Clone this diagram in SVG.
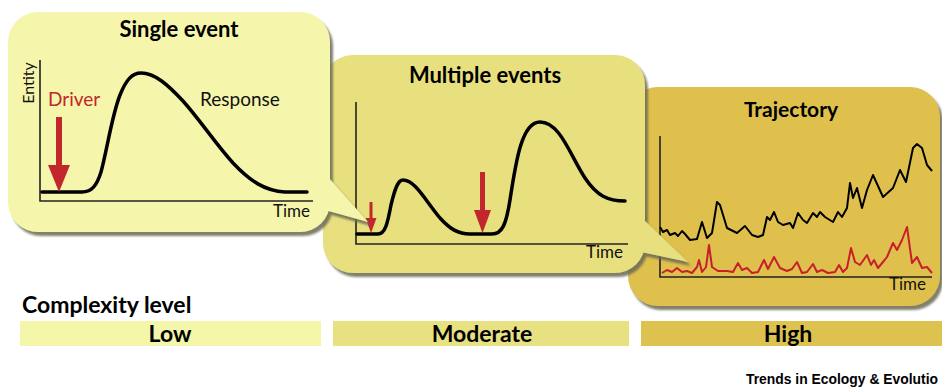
<svg xmlns="http://www.w3.org/2000/svg" width="942" height="391" viewBox="0 0 942 391">
  <defs>
    <filter id="shadow" x="-10%" y="-10%" width="130%" height="130%">
      <feDropShadow dx="3" dy="4" stdDeviation="1" flood-color="#6b6953" flood-opacity="0.85"/>
    </filter>
  </defs>
  <style>
    .title { font-family: Lato, "Open Sans", sans-serif; font-weight: bold; fill: #000; text-anchor: middle; }
    .lbl { font-family: Lato, "Open Sans", sans-serif; fill: #111; }
    .axis { stroke: #222; stroke-width: 1.6; fill: none; }
    .curve { stroke: #000; stroke-width: 3.5; fill: none; stroke-linejoin: round; stroke-linecap: round; }
    .red { fill: #c1272d; }
    .noisy-k { stroke: #000; stroke-width: 2; fill: none; stroke-linejoin: round; }
    .noisy-r { stroke: #c8202a; stroke-width: 2; fill: none; stroke-linejoin: round; }
    .bar-text { font-family: Lato, "Open Sans", sans-serif; font-weight: bold; font-size: 23px; text-anchor: middle; fill: #000; }
  </style>

  <rect width="942" height="391" fill="#ffffff"/>

  <!-- Trajectory panel (bottom of the stack) -->
  <g id="trajectory">
    <rect x="628" y="87" width="312" height="219" rx="30" fill="#dfc04e" filter="url(#shadow)"/>
    <text class="title" x="791" y="117" font-size="21">Trajectory</text>
    <path class="axis" d="M660,136 V277 H932"/>
    <polyline class="noisy-k" points="660,227 663,232 667,230 670,235 675,233 678,236 682,231 685,234 690,240 697,239 702,222 707,238 712,233 717,202 720,205 727,228 737,233 745,226 752,235 758,237 763,235 767,217 770,220 774,212 778,222 783,225 790,223 793,228 798,213 803,220 807,223 813,213 817,217 820,212 825,217 833,222 838,212 842,217 847,208 850,183 853,198 857,188 862,208 867,190 873,175 883,197 893,188 900,170 906,182 913,148 917,144 922,148 927,165 932,171"/>
    <polyline class="noisy-r" points="662,273 667,270 672,272 677,268 682,272 687,271 692,273 697,267 699,260 702,272 706,267 709,245 712,267 718,271 727,271 733,272 738,263 742,270 747,268 752,273 758,272 764,260 768,269 774,257 780,268 787,271 792,269 797,262 802,273 807,272 813,264 817,272 822,270 828,273 835,272 839,265 843,272 847,268 851,248 855,262 860,265 867,255 871,265 874,260 878,268 883,262 887,257 893,243 897,250 902,240 907,227 912,263 917,257 922,268 927,267 932,273"/>
    <text class="lbl" x="889" y="290" font-size="17">Time</text>
  </g>

  <!-- Multiple events panel, callout pointing into the trajectory chart -->
  <g id="multiple-events">
    <g filter="url(#shadow)" fill="#e8e07e">
      <rect x="323" y="55" width="322" height="218" rx="30"/>
      <polygon points="643,219 688,262 641,252"/>
    </g>
    <text class="title" x="485" y="83" font-size="22">Multiple events</text>
    <path class="axis" d="M356,102 V244 H628"/>
    <path class="curve" d="M357,234 L378,234 C386,234 388,220 391,205 C395,188 398,180 403,180 C415,180 425,200 440,218 C450,229 458,234 470,234 L492,234 C502,234 506,225 510,200 C516,160 522,122 540,122 C560,122 570,155 585,178 C597,196 608,201 625,201"/>
    <rect class="red" x="369.5" y="202" width="3" height="18"/>
    <polygon class="red" points="365.5,218 376.5,218 371,233"/>
    <rect class="red" x="480" y="172" width="5" height="40"/>
    <polygon class="red" points="474,210 491,210 482.5,233"/>
    <text class="lbl" x="586" y="258" font-size="17">Time</text>
  </g>

  <!-- Single event panel, callout pointing into the multiple-events chart -->
  <g id="single-event">
    <g filter="url(#shadow)" fill="#f5f6ab">
      <rect x="8" y="12" width="322" height="220" rx="30"/>
      <polygon points="328,177 368,222 325,210"/>
    </g>
    <text class="title" x="179" y="37" font-size="22">Single event</text>
    <path class="axis" d="M40,60 V201 H313"/>
    <path class="curve" d="M42,192 L82,192 C92,192 97,185 101,172 C107,150 112,115 120,95 C126,80 132,73 141,73 C155,73 168,85 183,101 C200,120 215,143 233,163 C250,181 265,191 285,192 L307,192"/>
    <text class="lbl" x="34" y="83" font-size="16" text-anchor="middle" transform="rotate(-90 34 83)">Entity</text>
    <text class="lbl" x="48" y="106" font-size="19" style="fill:#c1272d">Driver</text>
    <rect class="red" x="56" y="117" width="6" height="50"/>
    <polygon class="red" points="48,165 70,165 59,192"/>
    <text class="lbl" x="200" y="106" font-size="19">Response</text>
    <text class="lbl" x="273" y="217" font-size="17">Time</text>
  </g>

  <!-- Complexity scale -->
  <g id="complexity-scale">
    <text x="22" y="313" font-family="Lato, 'Open Sans', sans-serif" font-weight="bold" font-size="23">Complexity level</text>
    <rect x="20" y="321" width="301" height="25" fill="#f4f6a9"/>
    <rect x="333" y="321" width="296" height="25" fill="#e8e181"/>
    <rect x="641" y="321" width="301" height="25" fill="#dec24f"/>
    <text class="bar-text" x="170" y="342">Low</text>
    <text class="bar-text" x="482" y="342">Moderate</text>
    <text class="bar-text" x="788" y="342">High</text>
  </g>

  <text x="746" y="384" font-family="'Liberation Sans', Arial, sans-serif" font-weight="bold" font-size="15" textLength="192" lengthAdjust="spacingAndGlyphs">Trends in Ecology &amp; Evolutio</text>
</svg>
